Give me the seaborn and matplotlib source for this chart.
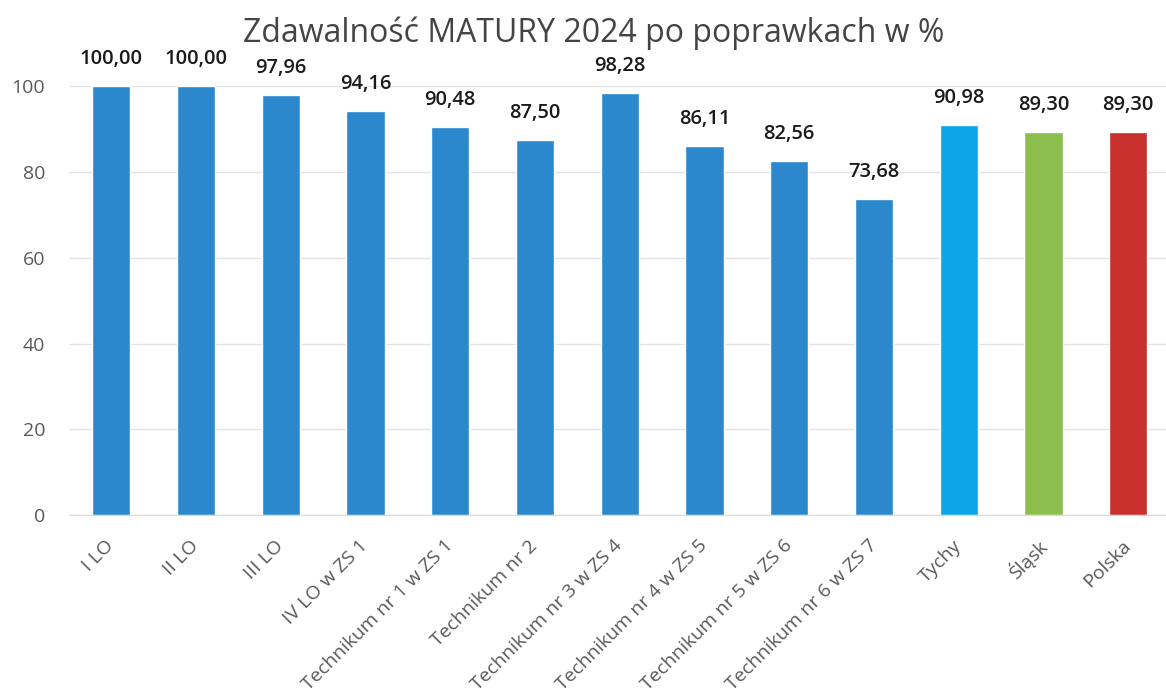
import pandas as pd
import matplotlib
matplotlib.use("Agg")
import matplotlib.pyplot as plt
import seaborn as sns

# ---- data ----
schools = ["I LO", "II LO", "III LO", "IV LO w ZS 1", "Technikum nr 1 w ZS 1",
           "Technikum nr 2", "Technikum nr 3 w ZS 4", "Technikum nr 4 w ZS 5",
           "Technikum nr 5 w ZS 6", "Technikum nr 6 w ZS 7", "Tychy", "Śląsk", "Polska"]
pass_rate = [100.00, 100.00, 97.96, 94.16, 90.48, 87.50, 98.28,
             86.11, 82.56, 73.68, 90.98, 89.30, 89.30]
bar_colors = ["#2b88cc"] * 10 + ["#0aa6e6", "#8cbf4e", "#c8302e"]

df = pd.DataFrame({"szkola": schools, "zdawalnosc": pass_rate})

sns.set_style("white")
plt.rcParams["font.family"] = ["Open Sans", "DejaVu Sans"]

fig = plt.figure(figsize=(11.66, 7.0), dpi=100)
ax = fig.add_axes([0.059, 0.264, 0.945, 0.613])

sns.barplot(data=df, x="szkola", y="zdawalnosc", hue="szkola",
            palette=bar_colors, legend=False, width=0.45, ax=ax, saturation=1)

ax.set_ylim(0, 100)
ax.set_yticks(range(0, 101, 20))
ax.yaxis.grid(True, color="#e3e3e3", linewidth=1)
ax.set_axisbelow(True)
for s in ["top", "right", "left"]:
    ax.spines[s].set_visible(False)
ax.spines["bottom"].set_color("#d9d9d9")
ax.tick_params(axis="both", length=0, colors="#595959", labelsize=14)
ax.tick_params(axis="y", pad=17)
ax.tick_params(axis="x", pad=20)
ax.set_xlabel("")
ax.set_ylabel("")
plt.setp(ax.get_xticklabels(), rotation=45, ha="right", va="center",
         rotation_mode="anchor")

for i, v in enumerate(pass_rate):
    ax.text(i, v + 4, f"{v:.2f}".replace(".", ","), ha="center", va="bottom",
            fontsize=14.5, fontweight="semibold", color="#1a1a1a", clip_on=False)

fig.text(0.509, 0.953, "Zdawalność MATURY 2024 po poprawkach w %",
         ha="center", va="center", fontsize=23, color="#444444")

plt.savefig("out.png", dpi=100)
plt.close()
